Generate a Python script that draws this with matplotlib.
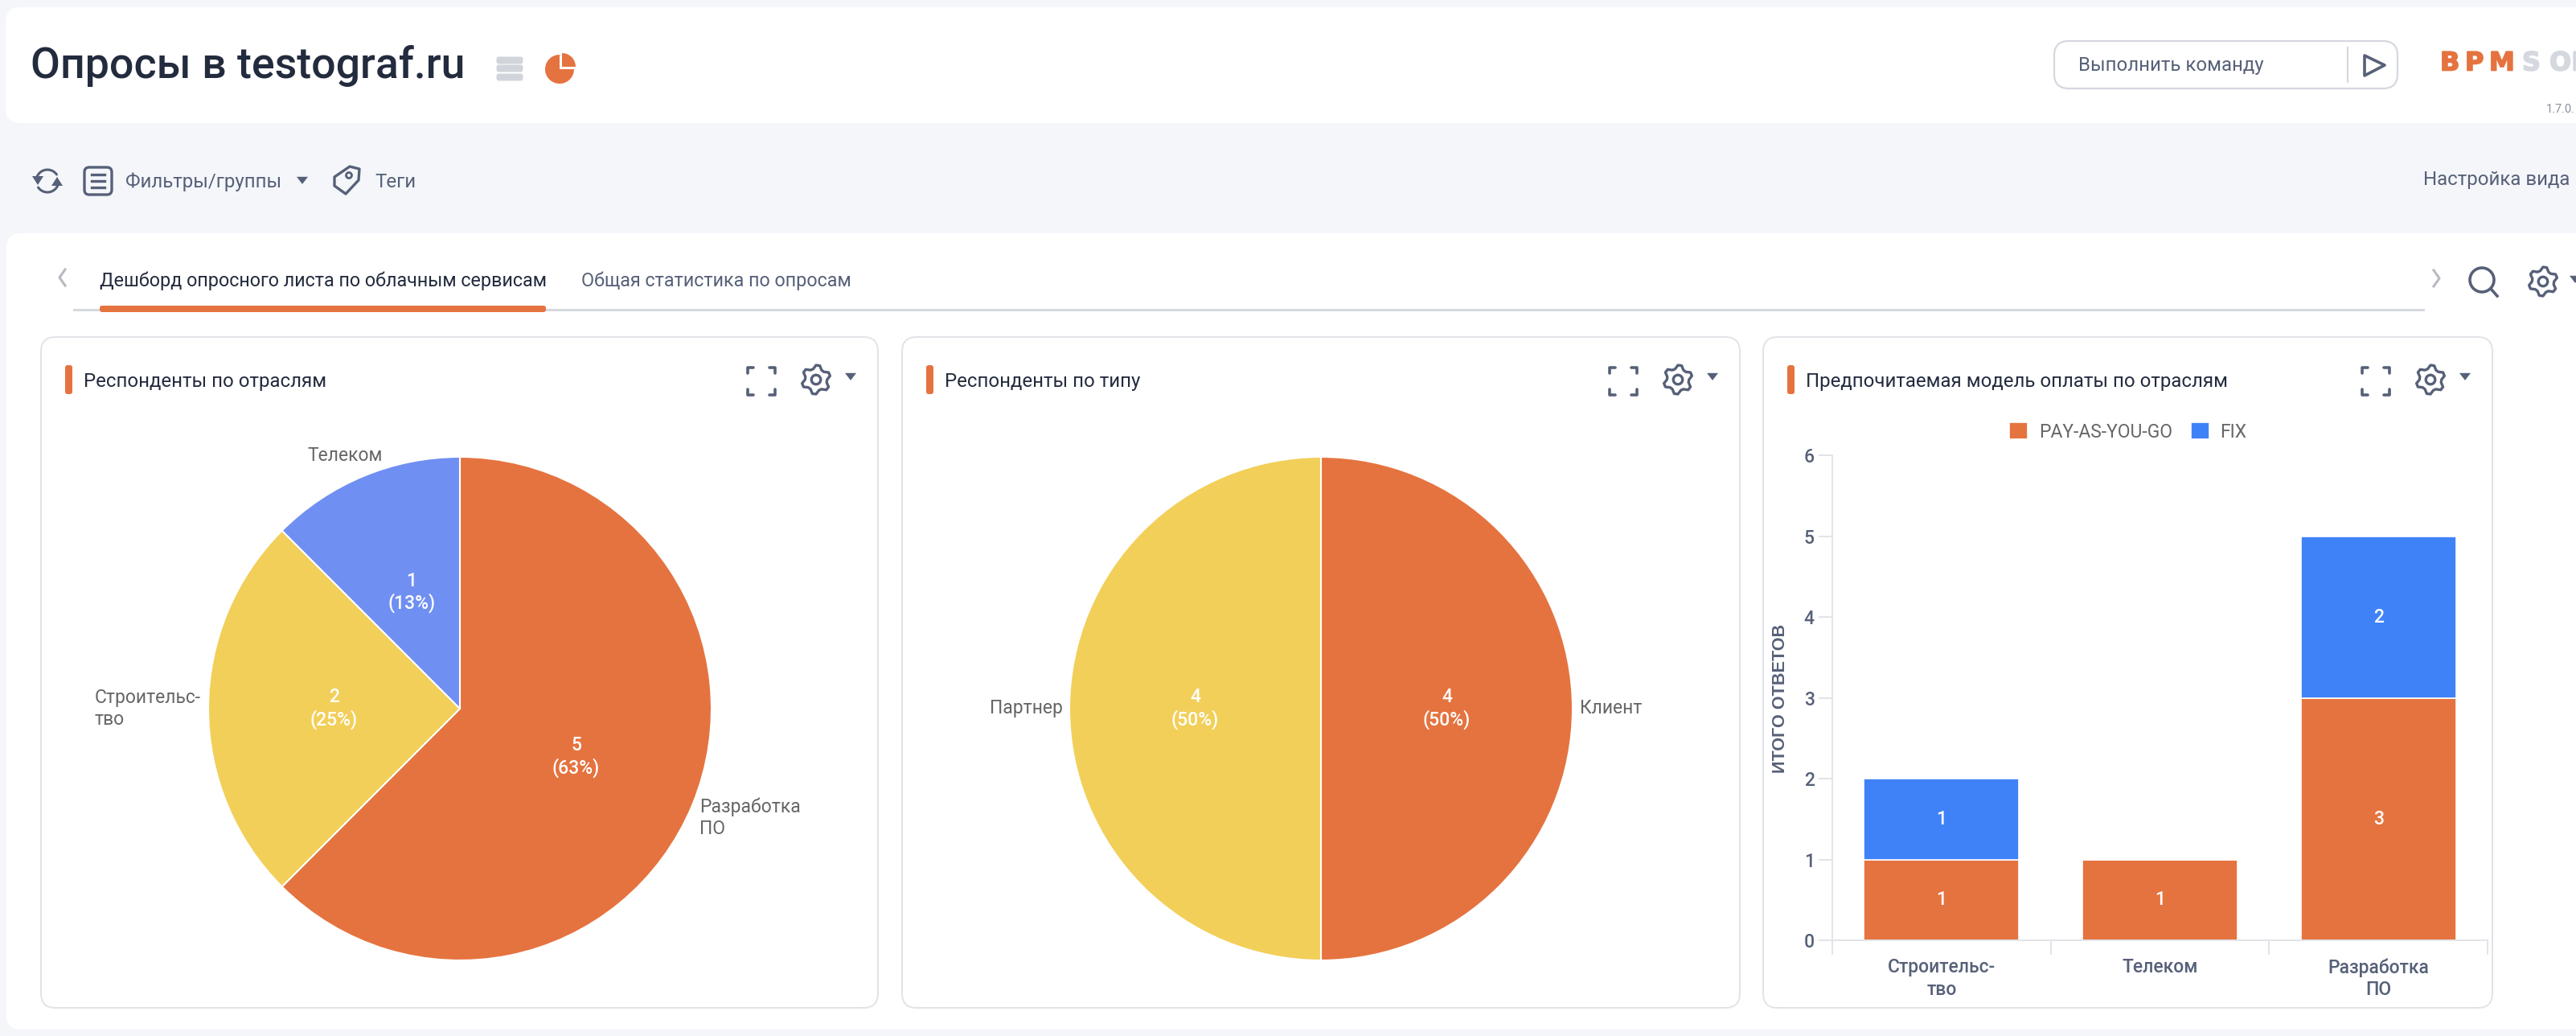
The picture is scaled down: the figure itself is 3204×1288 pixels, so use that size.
import numpy as np
import matplotlib
matplotlib.use("Agg")
import matplotlib.pyplot as plt
import matplotlib.patheffects as pe
from matplotlib.patches import FancyBboxPatch, Rectangle, Circle, Wedge, Polygon

# data
sector_labels = ["Разработка\nПО", "Строительс-\nтво", "Телеком"]
sector_values = [5, 2, 1]
sector_colors = ["#E5733F", "#F2CF59", "#708FF2"]

type_labels = ["Клиент", "Партнер"]
type_values = [4, 4]
type_colors = ["#E5733F", "#F2CF59"]

bar_categories = ["Строительс-\nтво", "Телеком", "Разработка\nПО"]
pay_as_you_go = [1, 1, 3]
fix = [1, 0, 2]
y_ticks = [0, 1, 2, 3, 4, 5, 6]

W, H = 3204, 1288
BG = "#F4F6FA"
ORANGE = "#E5733F"
BLUE = "#3F82F7"
DARK = "#232B3E"
GREY = "#566078"
LINE = "#E2E4E9"
FONT = "Roboto"
TEXT_SIZE = 17.3
TAB_SIZE = 16.8
CHART_SIZE = 16.5

plt.rcParams["font.family"] = [FONT, "DejaVu Sans"]

fig = plt.figure(figsize=(W / 100, H / 100), dpi=100, facecolor=BG)

# full page layer in pixel coordinates for the surrounding interface
page = fig.add_axes([0, 0, 1, 1])
page.set_xlim(0, W)
page.set_ylim(H, 0)
page.axis("off")


def px_axes(x0, y0, x1, y1):
    ax = fig.add_axes([x0 / W, 1 - y1 / H, (x1 - x0) / W, (y1 - y0) / H])
    ax.patch.set_alpha(0)
    return ax


def card(x0, y0, x1, y1, r=24, fc="white", ec="none", lw=0):
    page.add_patch(FancyBboxPatch((x0 + r, y0 + r), x1 - x0 - 2 * r, y1 - y0 - 2 * r,
                                  boxstyle=f"round,pad={r},rounding_size={r}",
                                  fc=fc, ec=ec, lw=lw))


def label(x, y, s, size=TEXT_SIZE, color=GREY, ha="left", va="center", **kw):
    return page.text(x, y, s, fontsize=size, color=color, ha=ha, va=va, **kw)


def gear(cx, cy, r, color=GREY):
    angles = np.linspace(0, 2 * np.pi, 6 * 4 + 1)
    radii = [r, r, r * 0.76, r * 0.76] * 6 + [r]
    offset = np.pi / 12
    pts = [(cx + rr * np.sin(a - offset), cy + rr * np.cos(a - offset)) for a, rr in zip(angles, radii)]
    page.add_patch(Polygon(pts, closed=True, fc="none", ec=color, lw=2.4, joinstyle="round"))
    page.add_patch(Circle((cx, cy), r * 0.32, fc="none", ec=color, lw=2.4))


def caret(cx, cy, s=7, color=GREY):
    page.add_patch(Polygon([(cx - s, cy - s * 0.6), (cx + s, cy - s * 0.6), (cx, cy + s * 0.7)],
                           closed=True, fc=color, ec="none"))


def fullscreen(cx, cy, s=17, color=GREY):
    t = 7
    for sx, sy in [(-1, -1), (1, -1), (-1, 1), (1, 1)]:
        page.plot([cx + sx * (s - t), cx + sx * s, cx + sx * s],
                  [cy + sy * s, cy + sy * s, cy + sy * (s - t)],
                  color=color, lw=2.6, solid_capstyle="round", solid_joinstyle="round")


def arc(cx, cy, r, a0, a1, color=GREY):
    t = np.deg2rad(np.linspace(a0, a1, 30))
    page.plot(cx + r * np.cos(t), cy - r * np.sin(t), color=color, lw=2.2, solid_capstyle="round")


# page panels
card(7, 9, W + 40, 153, r=18)
card(8, 290, W + 40, 1280, r=18)

# header
label(38, 82, "Опросы в testograf.ru", size=38.6, color=DARK, fontweight="medium")
for yy in (75, 85, 96):
    page.add_patch(FancyBboxPatch((620, yy - 2), 28, 4, boxstyle="round,pad=2.5,rounding_size=3",
                                  fc="#D1D5DB", ec="none"))
page.add_patch(Wedge((696, 86), 18, 0, 270, fc=ORANGE, ec="none"))
page.add_patch(Wedge((699, 83), 17, 270, 360, fc=ORANGE, ec="none"))

card(2555, 51, 2982, 110, r=18, ec="#D5D8DF", lw=1.6)
label(2585, 81, "Выполнить команду")
page.plot([2920, 2920], [59, 102], color="#D5D8DF", lw=1.6)
page.add_patch(Polygon([(2941, 69), (2966, 81), (2941, 94)], closed=True, fc="none", ec=GREY,
                       lw=2.6, joinstyle="round"))
# logo runs off the right edge of the page, as in the screenshot
for xx, letter, col in [(3035, "B", ORANGE), (3066, "P", ORANGE), (3096, "M", ORANGE),
                        (3137, "S", "#D5D8DF"), (3171, "OFT", "#D5D8DF")]:
    t = label(xx, 79, letter, size=23, color=col, fontweight="bold", family="DejaVu Sans")
    t.set_path_effects([pe.withStroke(linewidth=1.2, foreground=col)])
label(3167, 136, "1.7.0.", size=10.5, color="#8A8F99")

# toolbar
arc(59, 225, 14, 35, 165)
arc(59, 225, 14, 215, 345)
page.add_patch(Polygon([(40, 219), (54, 219), (47, 230)], closed=True, fc=GREY, ec="none"))
page.add_patch(Polygon([(64, 231), (78, 231), (71, 220)], closed=True, fc=GREY, ec="none"))
page.add_patch(FancyBboxPatch((108, 211), 28, 28, boxstyle="round,pad=3,rounding_size=6",
                              fc="none", ec=GREY, lw=2.4))
for yy in (217, 225, 233):
    page.plot([114, 130], [yy, yy], color=GREY, lw=2.4)
label(156, 226, "Фильтры/группы")
caret(376, 224)
page.add_patch(Polygon([(435, 207), (447, 210), (446, 224), (430, 241), (416, 231), (416, 220)],
                       closed=True, fc="none", ec=GREY, lw=2.4, joinstyle="round"))
page.add_patch(Circle((434, 218), 3.5, fc="none", ec=GREY, lw=2))
label(466, 226, "Теги")
label(3014, 223, "Настройка вида")

# tabs
page.add_patch(Rectangle((91, 384), 2925, 2.5, fc="#D5D8DF", ec="none", zorder=1.5))
page.add_patch(FancyBboxPatch((127, 383), 549, 2, boxstyle="round,pad=3,rounding_size=3",
                              fc=ORANGE, ec="none", zorder=1.6))
page.plot([81, 74, 81], [335, 345, 355], color="#B8BAC0", lw=2.2)
page.plot([3027, 3034, 3027], [336, 346, 356], color="#B8BAC0", lw=2.2)
label(124, 349, "Дешборд опросного листа по облачным сервисам", size=TAB_SIZE, color=DARK)
label(723, 349, "Общая статистика по опросам", size=TAB_SIZE)
page.add_patch(Circle((3087, 348), 15, fc="none", ec=GREY, lw=2.6))
page.plot([3098, 3106], [359, 368], color=GREY, lw=2.6)
gear(3163, 350, 18)
caret(3203, 347)

# cards
card_boxes = [(51, 419, 1092, 1253), (1122, 419, 2164, 1253), (2193, 419, 3100, 1253)]
card_titles = ["Респонденты по отраслям", "Респонденты по типу", "Предпочитаемая модель оплаты по отраслям"]
for (x0, y0, x1, y1), title in zip(card_boxes, card_titles):
    card(x0, y0, x1, y1, r=18, ec="#E1E3E8", lw=1.4)
    page.add_patch(FancyBboxPatch((x0 + 33, 457), 3, 30, boxstyle="round,pad=3,rounding_size=3",
                                  fc=ORANGE, ec="none"))
    label(x0 + 53, 474, title, color=DARK)
    fullscreen(x1 - 145, 474)
    gear(x1 - 77, 472, 18)
    caret(x1 - 34, 468)


def draw_pie(cx, cy, r, values, colors):
    ax = px_axes(cx - r, cy - r, cx + r, cy + r)
    wedges, _ = ax.pie(values, colors=colors, startangle=90, counterclock=False, radius=1,
                       wedgeprops={"edgecolor": "white", "linewidth": 1.5})
    ax.set_xlim(-1, 1)
    ax.set_ylim(-1, 1)
    total = sum(values)
    for w, v in zip(wedges, values):
        mid = np.deg2rad((w.theta1 + w.theta2) / 2)
        pct = int(v / total * 100 + 0.5)
        ax.text(0.5 * np.cos(mid), 0.5 * np.sin(mid), f"{v}\n({pct}%)", color="white",
                fontsize=CHART_SIZE, fontweight="medium", ha="center", va="center", linespacing=1.2)


draw_pie(572, 881, 313, sector_values, sector_colors)
draw_pie(1643, 881, 313, type_values, type_colors)

PIE_LABEL = "#666666"
label(870, 1017, sector_labels[0], size=CHART_SIZE, color=PIE_LABEL, ha="left", ma="left", linespacing=1.2)
label(250, 881, sector_labels[1], size=CHART_SIZE, color=PIE_LABEL, ha="right", ma="left", linespacing=1.2)
label(476, 566, sector_labels[2], size=CHART_SIZE, color=PIE_LABEL, ha="right")
label(1965, 880, type_labels[0], size=CHART_SIZE, color=PIE_LABEL)
label(1322, 880, type_labels[1], size=CHART_SIZE, color=PIE_LABEL, ha="right")

# stacked bars
ax = px_axes(2279, 566, 3094, 1169)
pos = np.arange(len(bar_categories))
bar_a = ax.bar(pos, pay_as_you_go, width=0.71, color=ORANGE, edgecolor="white", linewidth=1.2,
               label="PAY-AS-YOU-GO")
bar_b = ax.bar(pos, fix, width=0.71, bottom=pay_as_you_go, color=BLUE, edgecolor="white", linewidth=1.2,
               label="FIX")
for container, vals in ((bar_a, pay_as_you_go), (bar_b, fix)):
    ax.bar_label(container, labels=[str(v) if v else "" for v in vals], label_type="center",
                 color="white", fontsize=CHART_SIZE, fontweight="medium")
ax.set_xlim(-0.5, len(bar_categories) - 0.5)
ax.set_ylim(0, 6)
ax.set_yticks(y_ticks)
ax.set_xticks(np.arange(len(bar_categories) + 1) - 0.5)
ax.set_xticklabels([])
ax.set_xticks(pos, bar_categories, minor=True, fontsize=CHART_SIZE, color=GREY, linespacing=1.25,
              fontweight="medium")
ax.tick_params(axis="x", which="major", length=13, width=1.4, color=LINE)
ax.tick_params(axis="x", which="minor", length=0, pad=16)
ax.tick_params(axis="y", length=12, width=1.4, color=LINE, labelsize=CHART_SIZE, labelcolor=GREY, pad=4)
for t in ax.get_yticklabels():
    t.set_fontweight("medium")
for side in ("top", "right"):
    ax.spines[side].set_visible(False)
for side in ("left", "bottom"):
    ax.spines[side].set_color(LINE)
    ax.spines[side].set_linewidth(1.4)
ax.legend(handles=[bar_a, bar_b], ncol=2, frameon=False, loc="center",
          bbox_to_anchor=(2647 / W, 1 - 537 / H), bbox_transform=fig.transFigure,
          fontsize=CHART_SIZE, labelcolor="#666666", handlelength=1.0, handleheight=1.0,
          handletextpad=0.6, columnspacing=1.0)
page.text(2215, 868, "ИТОГО ОТВЕТОВ", rotation=90, fontsize=15.6, color=GREY, fontweight="bold",
          family="Liberation Sans", ha="center", va="center")

fig.savefig("out.png", dpi=100, facecolor=BG)
